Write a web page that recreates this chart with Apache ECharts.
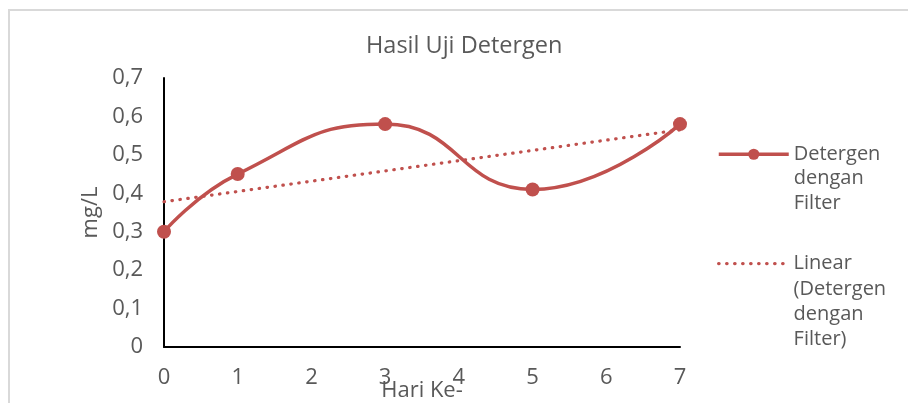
<!DOCTYPE html>
<html>
<head>
<meta charset="utf-8">
<script src="https://cdn.jsdelivr.net/npm/echarts@6/dist/echarts.min.js"></script>
<style>
html,body{margin:0;padding:0;background:#fff;}
#c{width:908px;height:403px;}
</style>
</head>
<body>
<div id="c"></div>
<script>
const titleText = 'Hasil Uji Detergen';
const xName = 'Hari Ke-';
const yName = 'mg/L';
const seriesName = 'Detergen dengan Filter';
const trendName = 'Linear (Detergen dengan Filter)';
const days = [0, 1, 3, 5, 7];
const values = [0.30, 0.45, 0.58, 0.41, 0.58];
const trendX = [0, 7];
const trendY = [0.378, 0.565];

const color = '#C0504D';
const txt = '#595959';
const font = 'Open Sans';

const chart = echarts.init(document.getElementById('c'), null, {renderer: 'canvas'});
chart.setOption({
  animation: false,
  backgroundColor: '#fff',
  title: {
    text: titleText,
    left: 366,
    top: 34,
    padding: 0,
    textStyle: {fontFamily: font, fontSize: 23.5, fontWeight: 'normal', color: txt}
  },
  graphic: [{
    type: 'rect',
    shape: {x: 9, y: 10, width: 1000, height: 500},
    style: {fill: 'none', stroke: '#d9d9d9', lineWidth: 2},
    silent: true
  }],
  grid: {left: 164, right: 228, top: 78, bottom: 56, containLabel: false, outerBoundsMode: 'none'},
  xAxis: {
    type: 'value', min: 0, max: 7, interval: 1,
    name: xName, nameLocation: 'middle', nameGap: 33, nameMoveOverlap: false,
    nameTextStyle: {fontFamily: font, fontSize: 22, color: txt},
    axisLine: {show: true, lineStyle: {color: '#000', width: 2}},
    axisTick: {show: false},
    splitLine: {show: false},
    axisLabel: {margin: 20, fontFamily: font, fontSize: 22, color: txt}
  },
  yAxis: {
    type: 'value', min: 0, max: 0.7, interval: 0.1,
    name: yName, nameLocation: 'middle', nameGap: 58,
    nameTextStyle: {fontFamily: font, fontSize: 22, color: txt},
    axisLine: {show: true, lineStyle: {color: '#000', width: 2}},
    axisTick: {show: false},
    splitLine: {show: false},
    axisLabel: {
      margin: 21, fontFamily: font, fontSize: 22, color: txt,
      formatter: v => v === 0 ? '0' : v.toFixed(1).replace('.', ',')
    }
  },
  legend: [{
    data: [seriesName],
    orient: 'vertical',
    left: 717, top: 93, padding: 0,
    itemWidth: 70, itemHeight: 14, itemGap: 0,
    lineStyle: {width: 3.5},
    formatter: () => '\n\nDetergen\ndengan\nFilter',
    textStyle: {fontFamily: font, fontSize: 20, color: txt, lineHeight: 24.5},
    selectedMode: false
  }, {
    data: [trendName],
    orient: 'vertical',
    left: 717, top: 175, padding: 0,
    itemWidth: 70, itemHeight: 14, itemGap: 0,
    itemStyle: {opacity: 0},
    lineStyle: {width: 3.2},
    formatter: () => '\n\n\nLinear\n(Detergen\ndengan\nFilter)',
    textStyle: {fontFamily: font, fontSize: 20, color: txt, lineHeight: 25.3},
    selectedMode: false
  }],
  series: [{
    name: seriesName,
    type: 'line',
    smooth: 0.5,
    data: days.map((d, i) => [d, values[i]]),
    symbol: 'circle',
    symbolSize: 14,
    itemStyle: {color: color},
    lineStyle: {color: color, width: 3.5}
  }, {
    name: trendName,
    type: 'line',
    data: trendX.map((d, i) => [d, trendY[i]]),
    symbol: 'none',
    itemStyle: {color: color},
    lineStyle: {color: color, width: 3.2, type: [0.5, 7.5], cap: 'round'},
    z: 1
  }]
});
</script>
</body>
</html>
